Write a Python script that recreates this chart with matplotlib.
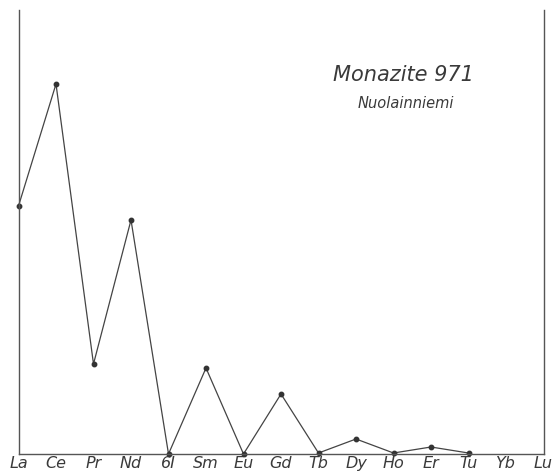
import matplotlib
matplotlib.use("Agg")
import matplotlib.pyplot as plt

elements = ["La", "Ce", "Pr", "Nd", "61", "Sm", "Eu", "Gd", "Tb", "Dy", "Ho", "Er", "Tu", "Yb", "Lu"]
tick_labels = ["La", "Ce", "Pr", "Nd", "6I", "Sm", "Eu", "Gd", "Tb", "Dy", "Ho", "Er", "Tu", "Yb", "Lu"]
# relative abundance, La..Tu
values = [248, 370, 90, 234, 0, 86, 0, 60, 1, 15, 1, 7, 1]

W, H = 552, 472
fig = plt.figure(figsize=(W / 100, H / 100), dpi=100)
left, right, bottom, top = 18.5, 543.5, 454, 10
ax = fig.add_axes([left / W, (H - bottom) / H, (right - left) / W, (bottom - top) / H])

ink = "#444444"
xs = list(range(len(values)))
ax.plot(xs, values, color=ink, lw=0.9, marker="o", ms=3.2, mec="#333333", mfc="#333333", clip_on=False)

ax.set_xlim(0, len(elements) - 1)
ax.set_ylim(0, bottom - top)
ax.set_xticks(range(len(elements)))
ax.set_xticklabels(tick_labels, fontstyle="italic", fontsize=11.5, color="#3a3a3a",
                   fontfamily="DejaVu Sans", fontweight="light")
ax.tick_params(axis="x", length=0, pad=1.5)
ax.set_yticks([])
ax.spines["top"].set_visible(False)
for s in ["left", "right", "bottom"]:
    ax.spines[s].set_color("#555555")
    ax.spines[s].set_linewidth(1.0)

fig.text(403 / W, 1 - 75 / H, "Monazite 971", fontsize=15, fontstyle="italic",
         color="#3a3a3a", ha="center", va="center", fontweight="light")
fig.text(406 / W, 1 - 104 / H, "Nuolainniemi", fontsize=10.5, fontstyle="italic",
         color="#3a3a3a", ha="center", va="center", fontweight="light")

fig.savefig("out.png", dpi=100, facecolor="white")
